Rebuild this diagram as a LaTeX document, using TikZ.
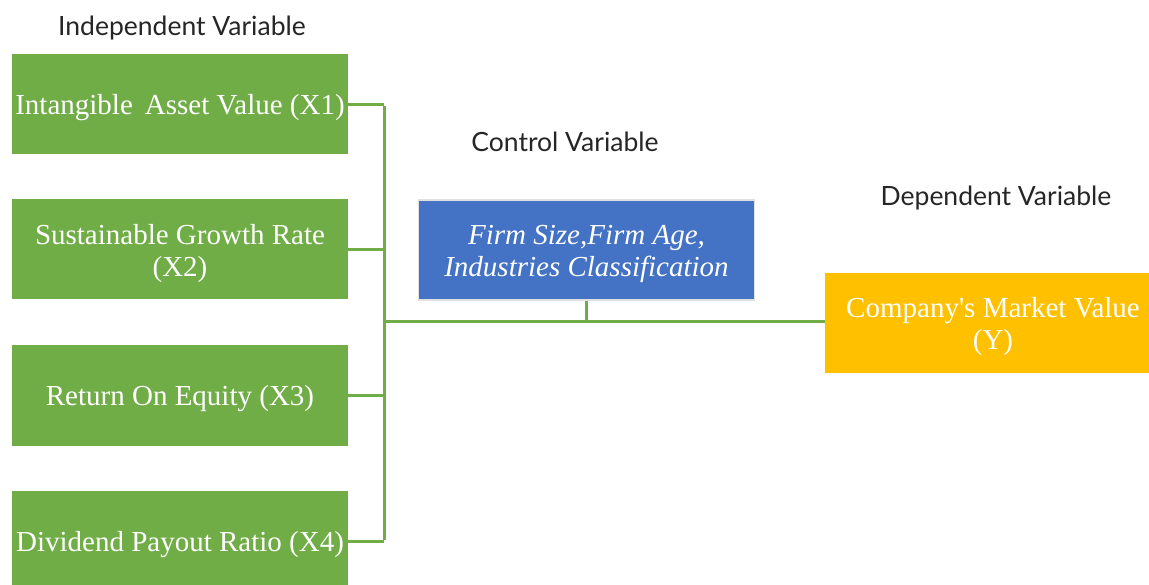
\documentclass[tikz,border=0pt]{standalone}
\usepackage{fontspec}
\setmainfont{Liberation Serif}
\newfontfamily\labelfont{Lato}
\definecolor{boxgreen}{HTML}{70AD47}
\definecolor{boxblue}{HTML}{4472C4}
\definecolor{boxyellow}{HTML}{FFC000}
\begin{document}
\begin{tikzpicture}[x=1pt,y=-1pt,
  varbox/.style={rectangle, minimum width=336pt, minimum height=100pt, inner sep=0pt,
    text height=27pt, text=white, align=center, font=\fontsize{29}{32}\selectfont},
  twoline/.style={text height=60pt},
  ivbox/.style={varbox, fill=boxgreen},
  cvbox/.style={varbox, fill=boxblue, draw=black!12, line width=1.5pt, font=\fontsize{29}{32}\selectfont\itshape},
  dvbox/.style={varbox, fill=boxyellow},
  heading/.style={font=\labelfont\fontsize{26.5}{30}\selectfont, text=black!85, inner sep=0pt},
  link/.style={draw=boxgreen, line width=3pt}]
\clip (0,0) rectangle (1149,585);
\fill[white] (0,0) rectangle (1149,585);

\node[heading] (hind) at (182,28) {Independent Variable};
\node[heading] (hctl) at (565,142) {Control Variable};
\node[heading] (hdep) at (996,198) {Dependent Variable};

\node[ivbox] (x1) at (180,104.5) {Intangible\, Asset Value (X1)};
\node[ivbox, twoline] (x2) at (180,249.5) {Sustainable Growth Rate\\(X2)};
\node[ivbox] (x3) at (180,395.5) {Return On Equity (X3)};
\node[ivbox] (x4) at (180,541) {Dividend Payout Ratio (X4)};

\node[cvbox, twoline] (ctl) at (586.5,250) {Firm Size,Firm Age,\\Industries Classification};

\node[dvbox, twoline] (y) at (993,323) {Company\textquotesingle s Market Value\\(Y)};

\coordinate (j) at (384,322);

\draw[link] (x1.east) -- (x1.east -| j);
\draw[link] (x2.east) -- (x2.east -| j);
\draw[link] (x3.east) -- (x3.east -| j);
\draw[link] (x4.east) -- (x4.east -| j);
\draw[link] ([yshift=-1.5pt]x1.east -| j) -- ([yshift=1.5pt]x4.east -| j);
\draw[link] (j) -- (y.west |- j);
\draw[link] (ctl.south) -- (ctl.south |- j);
\end{tikzpicture}
\end{document}
